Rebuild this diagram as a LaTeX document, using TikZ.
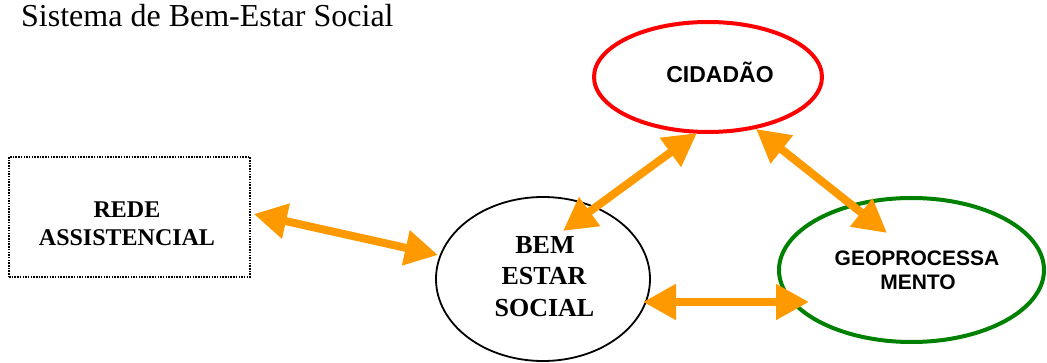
\documentclass[tikz,border=0pt]{standalone}
\usepackage{fontspec}
\setmainfont{Liberation Serif}
\newfontfamily\arialfont{Liberation Sans}
\usetikzlibrary{shapes.geometric,arrows.meta,calc}
\definecolor{arrorange}{RGB}{255,153,0}
\definecolor{cidred}{RGB}{255,0,0}
\definecolor{geogreen}{RGB}{0,128,0}
\tikzset{
  ell/.style={ellipse, inner sep=0pt, outer sep=0pt},
  serifbold/.style={font=\fontsize{24}{28}\selectfont\bfseries, anchor=base, inner sep=0pt},
  bembold/.style={font=\fontsize{26}{30}\selectfont\bfseries, anchor=base, inner sep=0pt},
  sansbold/.style={font=\arialfont\fontsize{21}{25}\selectfont\bfseries, anchor=base, inner sep=0pt},
  biarrow/.style={draw=arrorange, line width=8pt,
    {Triangle[length=33pt,width=34pt]}-{Triangle[length=33pt,width=34pt]}}
}
\begin{document}
\begin{tikzpicture}[x=1pt,y=-1pt]
\useasboundingbox (0,0) rectangle (1047,363);
% title
\node[anchor=base west, inner sep=0pt, font=\fontsize{32}{38}\selectfont] (title) at (21,27) {Sistema de Bem-Estar Social};
% shapes
\node[draw, line width=1.5pt, dash pattern=on 1.5pt off 1.2pt, minimum width=241pt, minimum height=120pt, inner sep=0pt] (rede) at (129.5,217) {};
\node[ell, draw=cidred, line width=4pt, minimum width=228pt, minimum height=110pt] (cid) at (708,77) {};
\node[ell, draw=geogreen, line width=4pt, minimum width=265pt, minimum height=144pt] (geo) at (911.5,270) {};
\node[ell, draw=black, line width=1.8pt, minimum width=214pt, minimum height=164pt] (bem) at (543,279) {};
% labels
\node[serifbold] (rede1) at (127,218) {REDE};
\node[serifbold] (rede2) at (127,246) {ASSISTENCIAL};
\node[bembold] (bem1) at (545,254) {BEM};
\node[bembold] (bem2) at (544,285) {ESTAR};
\node[bembold] (bem3) at (544.5,317) {SOCIAL};
\node[sansbold, font=\arialfont\fontsize{23}{27}\selectfont\bfseries] (cidlabel) at (720,83) {CIDADÃO};
\node[sansbold] (geo1) at (917,266) {GEOPROCESSA};
\node[sansbold] (geo2) at (918,290) {MENTO};
% connectors
\draw[biarrow] ($(rede.east)+(3,-3)$) -- ($(bem)+(-105,-24)$);
\draw[biarrow] ($(bem)+(100,23)$) -- ($(geo)+(-102.5,32)$);
\draw[biarrow] ($(bem)+(20,-48)$) -- ($(cid)+(-11,56)$);
\draw[biarrow] ($(cid)+(48,52)$) -- ($(geo)+(-24.5,-37)$);
\end{tikzpicture}
\end{document}
